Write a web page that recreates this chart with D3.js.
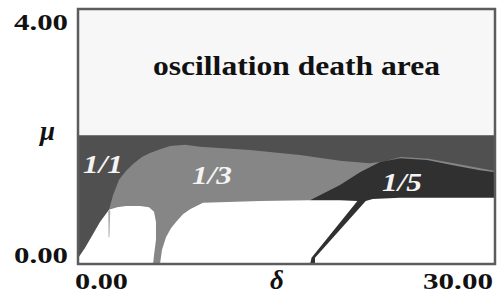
<!DOCTYPE html>
<html>
<head>
<meta charset="utf-8">
<script src="https://cdn.jsdelivr.net/npm/d3@7"></script>
<style>
  body { margin: 0; background: #fff; }
  text { font-family: "Liberation Serif", "Times New Roman", Times, serif; font-weight: bold; }
</style>
</head>
<body>
<div id="chart"></div>
<script>
// axis ranges and tick labels
const deltaRange = [0, 30];
const muRange = [0, 4];
const xTicks = [0, 30];
const yTicks = [0, 4];
const xTickLabels = ["0.00", "30.00"];
const yTickLabels = ["0.00", "4.00"];

// boundary of the oscillation death area (mu)
const deathBoundary = 2.02;

// upper edge of the 1/3 locking region [delta, mu]
const region13 = [
  [2.23, 0.85], [2.52, 1.08], [2.95, 1.32], [3.45, 1.46], [3.96, 1.57],
  [4.6, 1.68], [5.18, 1.74], [5.9, 1.80], [6.62, 1.85], [7.7, 1.87],
  [8.78, 1.84], [12.37, 1.79], [15.97, 1.71], [18.85, 1.62], [21.0, 1.58],
  [22.1, 1.61], [23.2, 1.68], [25.2, 1.65], [27.3, 1.57], [30, 1.46],
  [30, 0], [2.23, 0]
];

// 1/5 locking region
const region15 = [
  [16.69, 1.0], [18.85, 1.24], [20.29, 1.44], [21.73, 1.60], [23.17, 1.66],
  [25.11, 1.63], [26.98, 1.55], [28.92, 1.47], [30, 1.44],
  [30, 0], [16.69, 0]
];

// non-locked (white) areas
const freeA = [
  [0, 0], [0, 0.09], [0.5, 0.25], [1.0, 0.44], [1.58, 0.66], [2.23, 0.85],
  [2.81, 0.89], [3.45, 0.91], [4.46, 0.91], [5.11, 0.89], [5.47, 0.82],
  [5.61, 0.66], [5.61, 0.38], [5.47, 0.14], [5.40, 0]
];
const freeB = [
  [5.90, 0], [6.04, 0.22], [6.33, 0.42], [6.69, 0.56], [7.05, 0.66],
  [7.55, 0.78], [8.06, 0.86], [8.99, 0.96], [10.22, 0.97], [13.09, 0.99],
  [16.69, 1.0], [18.85, 1.0], [20.1, 0.99], [16.8, 0.1], [16.7, 0]
];
const freeC = [
  [17.05, 0], [17.05, 0.1], [20.7, 0.99], [21.2, 1.02], [23.17, 1.04],
  [30, 1.04], [30, 0]
];
// thin streak inside the first white arch
const streak = [[2.18, 0.84], [2.32, 0.84], [2.26, 0.42], [2.2, 0.42]];

const regionLabels = ["1/1", "1/3", "1/5"];
const areaLabel = "oscillation death area";

const W = 498, H = 304;
const plot = { left: 78, right: 495, top: 9, bottom: 264 };

const svg = d3.select("#chart")
  .append("svg")
  .attr("width", W)
  .attr("height", H);

const x = d3.scaleLinear().domain(deltaRange).range([plot.left, plot.right]);
const y = d3.scaleLinear().domain(muRange).range([plot.bottom, plot.top]);

const line = d3.line()
  .x(function(d) { return x(d[0]); })
  .y(function(d) { return y(d[1]); });

svg.append("clipPath").attr("id", "clip")
  .append("rect")
  .attr("x", plot.left).attr("y", plot.top)
  .attr("width", plot.right - plot.left)
  .attr("height", plot.bottom - plot.top);

const g = svg.append("g").attr("clip-path", "url(#clip)");

// oscillation death area
g.append("rect")
  .attr("x", x(0)).attr("y", y(4))
  .attr("width", x(30) - x(0))
  .attr("height", y(deathBoundary) - y(4))
  .attr("fill", "#f7f7f7");

// 1/1 region (dark band)
g.append("rect")
  .attr("x", x(0)).attr("y", y(deathBoundary))
  .attr("width", x(30) - x(0))
  .attr("height", y(0) - y(deathBoundary))
  .attr("fill", "#505050");

g.append("path").attr("d", line(region13) + "Z").attr("fill", "#868686");
g.append("path").attr("d", line(region15) + "Z").attr("fill", "#303030");

[freeA, freeB, freeC].forEach(function(p) {
  g.append("path").attr("d", line(p) + "Z").attr("fill", "#ffffff");
});
g.append("path").attr("d", line(streak) + "Z").attr("fill", "#a8a8a8");

// frame
svg.append("rect")
  .attr("x", plot.left).attr("y", plot.top)
  .attr("width", plot.right - plot.left)
  .attr("height", plot.bottom - plot.top)
  .attr("fill", "none")
  .attr("stroke", "#5c5c5c")
  .attr("stroke-width", 2.5);

// tick labels
svg.selectAll(".xt")
  .data(xTicks)
  .enter().append("text")
  .attr("class", "xt")
  .attr("x", function(d, i) { return i === 0 ? x(d) - 3 : x(d) - 2; })
  .attr("y", 289)
  .attr("text-anchor", function(d, i) { return i === 0 ? "start" : "end"; })
  .attr("textLength", function(d, i) { return i === 0 ? 53 : 70; })
  .attr("lengthAdjust", "spacingAndGlyphs")
  .style("font-size", "23px")
  .attr("fill", "#111")
  .text(function(d, i) { return xTickLabels[i]; });

svg.selectAll(".yt")
  .data(yTicks)
  .enter().append("text")
  .attr("class", "yt")
  .attr("x", 14)
  .attr("y", function(d, i) { return i === 0 ? y(d) - 1 : y(d) + 21; })
  .attr("textLength", 54)
  .attr("lengthAdjust", "spacingAndGlyphs")
  .style("font-size", "23px")
  .attr("fill", "#111")
  .text(function(d, i) { return yTickLabels[i]; });

// axis names
svg.append("text")
  .attr("x", 270).attr("y", 289)
  .style("font-size", "27px").style("font-style", "italic")
  .attr("fill", "#111")
  .text("δ");

svg.append("text")
  .attr("x", 40).attr("y", 140)
  .style("font-size", "27px").style("font-style", "italic")
  .attr("fill", "#111")
  .text("μ");

// area label
svg.append("text")
  .attr("x", 153).attr("y", 75)
  .attr("textLength", 287)
  .attr("lengthAdjust", "spacingAndGlyphs")
  .style("font-size", "27px")
  .attr("fill", "#111")
  .text(areaLabel);

// locking ratio labels
const labelPos = [[83, 173], [192, 184], [382, 191]];
svg.selectAll(".rl")
  .data(regionLabels)
  .enter().append("text")
  .attr("class", "rl")
  .attr("x", function(d, i) { return labelPos[i][0]; })
  .attr("y", function(d, i) { return labelPos[i][1]; })
  .attr("textLength", 40)
  .attr("lengthAdjust", "spacingAndGlyphs")
  .style("font-size", "25px").style("font-style", "italic")
  .attr("fill", "#f4f4f4")
  .text(function(d) { return d; });
</script>
</body>
</html>
